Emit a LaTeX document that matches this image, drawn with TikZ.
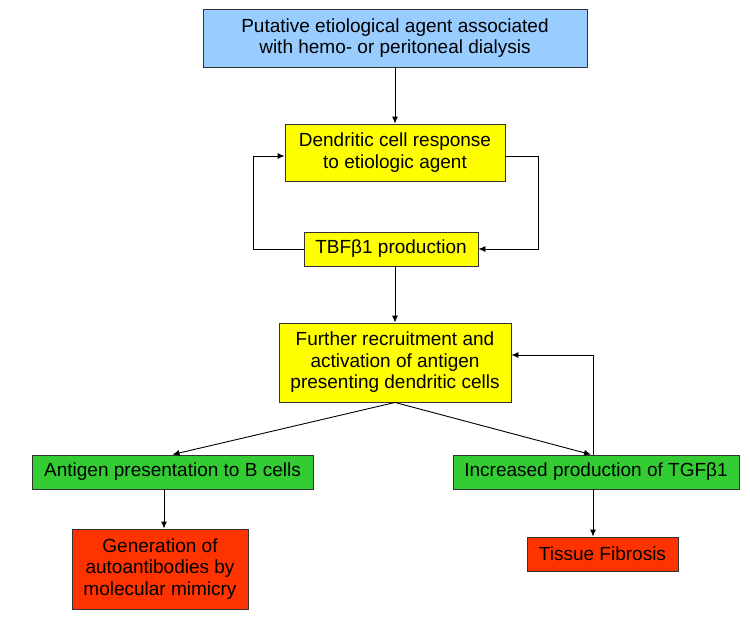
\documentclass[tikz,border=0pt]{standalone}
\usepackage{fontspec}
\setmainfont{Liberation Sans}
\usetikzlibrary{arrows.meta}
\definecolor{cblue}{HTML}{99CCFF}
\definecolor{cyel}{HTML}{FFFF00}
\definecolor{cgreen}{HTML}{33CC33}
\definecolor{cred}{HTML}{FF3300}
\definecolor{cedge}{HTML}{333333}
\begin{document}
\begin{tikzpicture}[x=1pt,y=-1pt,
  box/.style={draw=cedge,line width=0.9pt,rectangle,align=center,inner sep=0pt,
    font=\fontsize{19}{21.5}\selectfont},
  conn/.style={line width=0.9pt,-{Latex[length=7pt,width=6pt]}},
  plain/.style={line width=0.9pt}]
\useasboundingbox (0,0) rectangle (750,629);
\node[box,fill=cblue,minimum width=384pt,minimum height=58pt] (top) at (395,38) {Putative etiological agent associated\\with hemo- or peritoneal dialysis};
\node[box,fill=cyel,minimum width=220pt,minimum height=57pt] (dc) at (395,152.5) {Dendritic cell response\\to etiologic agent};
\node[box,fill=cyel,minimum width=174pt,minimum height=34pt] (tbf) at (391,249) {TBFβ1 production};
\node[box,fill=cyel,minimum width=232pt,minimum height=79pt] (fr) at (395,362.5) {Further recruitment and\\activation of antigen\\presenting dendritic cells};
\node[box,fill=cgreen,minimum width=281pt,minimum height=34pt] (ag) at (172.5,472) {Antigen presentation to B cells};
\node[box,fill=cgreen,minimum width=286pt,minimum height=34pt] (inc) at (596,472) {Increased production of TGFβ1};
\node[box,fill=cred,minimum width=176pt,minimum height=80pt] (gen) at (160,569) {Generation of\\autoantibodies by\\molecular mimicry};
\node[box,fill=cred,minimum width=151pt,minimum height=34pt] (tis) at (602.5,554) {Tissue Fibrosis};

\draw[conn] (top.south) -- (dc.north);
\draw[conn] ([yshift=-3.5pt]dc.east) -- ++(33,0) |- (tbf.east);
\draw[conn] (tbf.west) -- ++(-50,0) |- ([yshift=-3.5pt]dc.west);
\draw[conn] (tbf.south -| fr.north) -- (fr.north);
\draw[conn] (fr.south) -- (ag.north);
\draw[conn] (fr.south) -- ([xshift=-5pt]inc.north);
\draw[conn] ([xshift=-3pt]inc.north) |- ([yshift=7.5pt]fr.east);
\draw[conn] ([xshift=4pt]gen.north |- ag.south) -- ([xshift=4pt]gen.north);
\draw[conn] ([xshift=-3pt]inc.south) -- ([xshift=-3pt]inc.south |- tis.north);
\end{tikzpicture}
\end{document}
